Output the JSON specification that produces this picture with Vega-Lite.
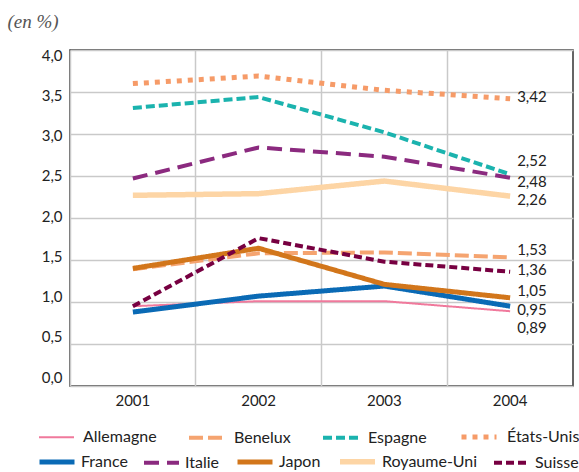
{
  "$schema": "https://vega.github.io/schema/vega-lite/v6.json",
  "width": 503,
  "height": 336,
  "autosize": {"type": "none"},
  "padding": {"left": 70, "top": 50, "right": 6, "bottom": 86},
  "background": "white",
  "config": {
    "view": {"stroke": "#333333", "strokeWidth": 1.5},
    "locale": {"number": {"decimal": ",", "thousands": " ", "grouping": [3], "currency": ["", " €"]}}
  },
  "data": {
    "values": [
      {"country": "Allemagne", "year": "2001", "value": 0.95},
      {"country": "Allemagne", "year": "2002", "value": 1.01},
      {"country": "Allemagne", "year": "2003", "value": 1.01},
      {"country": "Allemagne", "year": "2004", "value": 0.89},
      {"country": "Benelux", "year": "2001", "value": 1.39},
      {"country": "Benelux", "year": "2002", "value": 1.58},
      {"country": "Benelux", "year": "2003", "value": 1.59},
      {"country": "Benelux", "year": "2004", "value": 1.53},
      {"country": "Espagne", "year": "2001", "value": 3.31},
      {"country": "Espagne", "year": "2002", "value": 3.44},
      {"country": "Espagne", "year": "2003", "value": 3.02},
      {"country": "Espagne", "year": "2004", "value": 2.52},
      {"country": "États-Unis", "year": "2001", "value": 3.6},
      {"country": "États-Unis", "year": "2002", "value": 3.69},
      {"country": "États-Unis", "year": "2003", "value": 3.52},
      {"country": "États-Unis", "year": "2004", "value": 3.42},
      {"country": "France", "year": "2001", "value": 0.88},
      {"country": "France", "year": "2002", "value": 1.07},
      {"country": "France", "year": "2003", "value": 1.19},
      {"country": "France", "year": "2004", "value": 0.95},
      {"country": "Italie", "year": "2001", "value": 2.47},
      {"country": "Italie", "year": "2002", "value": 2.84},
      {"country": "Italie", "year": "2003", "value": 2.73},
      {"country": "Italie", "year": "2004", "value": 2.48},
      {"country": "Japon", "year": "2001", "value": 1.4},
      {"country": "Japon", "year": "2002", "value": 1.64},
      {"country": "Japon", "year": "2003", "value": 1.21},
      {"country": "Japon", "year": "2004", "value": 1.05},
      {"country": "Royaume-Uni", "year": "2001", "value": 2.27},
      {"country": "Royaume-Uni", "year": "2002", "value": 2.29},
      {"country": "Royaume-Uni", "year": "2003", "value": 2.44},
      {"country": "Royaume-Uni", "year": "2004", "value": 2.26},
      {"country": "Suisse", "year": "2001", "value": 0.95},
      {"country": "Suisse", "year": "2002", "value": 1.76},
      {"country": "Suisse", "year": "2003", "value": 1.48},
      {"country": "Suisse", "year": "2004", "value": 1.36}
    ]
  },
  "encoding": {
    "x": {
      "field": "year",
      "type": "ordinal",
      "scale": {"type": "band", "paddingInner": 0, "paddingOuter": 0},
      "axis": {
        "title": null,
        "bandPosition": 0,
        "grid": true,
        "gridColor": "#c9c9c9",
        "gridWidth": 1.5,
        "ticks": false,
        "domain": false,
        "labelAngle": 0,
        "labelPadding": 7,
        "labelFont": "Lato",
        "labelFontSize": 15,
        "labelColor": "#222222"
      }
    },
    "y": {
      "field": "value",
      "type": "quantitative",
      "scale": {"domain": [0, 4], "nice": false},
      "axis": {
        "title": "(en %)",
        "titleAngle": 0,
        "titleX": -63,
        "titleY": -29,
        "titleAlign": "left",
        "titleBaseline": "middle",
        "titleFont": "Liberation Serif",
        "titleFontStyle": "italic",
        "titleFontWeight": "normal",
        "titleFontSize": 19,
        "titleColor": "#555555",
        "values": [0, 0.5, 1, 1.5, 2, 2.5, 3, 3.5, 4],
        "format": ".1f",
        "ticks": false,
        "domain": false,
        "grid": true,
        "gridColor": "#c9c9c9",
        "gridWidth": 1.5,
        "labelPadding": 8,
        "labelFont": "Lato",
        "labelFontSize": 15,
        "labelColor": "#222222",
        "labelBaseline": "middle",
        "labelOffset": {"expr": "3.5*datum.value-9"}
      }
    }
  },
  "layer": [
    {
      "transform": [{"filter": {"field": "country", "oneOf": ["Allemagne", "Benelux", "Espagne", "États-Unis"]}}],
      "mark": {"type": "line"},
      "encoding": {
        "color": {
          "field": "country",
          "type": "nominal",
          "scale": {"domain": ["Allemagne", "Benelux", "Espagne", "États-Unis"], "range": ["#f0799c", "#f5a470", "#1bb3ae", "#f69b68"]},
          "legend": {
            "title": null,
            "orient": "none",
            "legendX": -32,
            "legendY": 367,
            "direction": "horizontal",
            "symbolType": "stroke",
            "symbolSize": 1225,
            "labelFont": "Lato",
            "labelFontSize": 16,
            "labelColor": "#222222",
            "labelOffset": 8,
            "columnPadding": 24
          }
        },
        "strokeDash": {
          "field": "country",
          "type": "nominal",
          "scale": {"domain": ["Allemagne", "Benelux", "Espagne", "États-Unis"], "range": [[1, 0], [14, 5], [9, 4], [5, 6]]}
        },
        "strokeWidth": {
          "field": "country",
          "type": "nominal",
          "scale": {"type": "ordinal", "domain": ["Allemagne", "Benelux", "Espagne", "États-Unis"], "range": [2, 4, 4, 5]}
        }
      }
    },
    {
      "transform": [{"filter": {"field": "country", "oneOf": ["France", "Italie", "Japon", "Royaume-Uni", "Suisse"]}}],
      "mark": {"type": "line"},
      "encoding": {
        "color": {
          "field": "country",
          "type": "nominal",
          "scale": {"domain": ["France", "Italie", "Japon", "Royaume-Uni", "Suisse"], "range": ["#0a6ab5", "#8b2a7f", "#d2761b", "#fdd5a5", "#770041"]},
          "legend": {
            "title": null,
            "orient": "none",
            "legendX": -33,
            "legendY": 391,
            "direction": "horizontal",
            "symbolType": "stroke",
            "symbolSize": 1225,
            "labelFont": "Lato",
            "labelFontSize": 16,
            "labelColor": "#222222",
            "labelOffset": 4,
            "columnPadding": 8
          }
        },
        "strokeDash": {
          "field": "country",
          "type": "nominal",
          "scale": {"domain": ["France", "Italie", "Japon", "Royaume-Uni", "Suisse"], "range": [[1, 0], [15, 8], [1, 0], [1, 0], [8, 4]]}
        },
        "strokeWidth": {
          "field": "country",
          "type": "nominal",
          "scale": {"type": "ordinal", "domain": ["France", "Italie", "Japon", "Royaume-Uni", "Suisse"], "range": [5, 4, 5, 5.5, 4]}
        }
      }
    },
    {
      "transform": [{"filter": {"field": "year", "equal": "2004"}}, {"filter": {"field": "country", "oneOf": ["Espagne"]}}],
      "mark": {"type": "text", "align": "left", "baseline": "middle", "dx": 7, "dy": -13, "font": "Lato", "fontSize": 15, "color": "#222222"},
      "encoding": {"text": {"field": "value", "type": "quantitative", "format": ".2f"}}
    },
    {
      "transform": [{"filter": {"field": "year", "equal": "2004"}}, {"filter": {"field": "country", "oneOf": ["Benelux", "Japon"]}}],
      "mark": {"type": "text", "align": "left", "baseline": "middle", "dx": 7, "dy": -7, "font": "Lato", "fontSize": 15, "color": "#222222"},
      "encoding": {"text": {"field": "value", "type": "quantitative", "format": ".2f"}}
    },
    {
      "transform": [{"filter": {"field": "year", "equal": "2004"}}, {"filter": {"field": "country", "oneOf": ["États-Unis", "Suisse"]}}],
      "mark": {"type": "text", "align": "left", "baseline": "middle", "dx": 7, "dy": -2, "font": "Lato", "fontSize": 15, "color": "#222222"},
      "encoding": {"text": {"field": "value", "type": "quantitative", "format": ".2f"}}
    },
    {
      "transform": [{"filter": {"field": "year", "equal": "2004"}}, {"filter": {"field": "country", "oneOf": ["Italie", "Royaume-Uni", "France"]}}],
      "mark": {"type": "text", "align": "left", "baseline": "middle", "dx": 7, "dy": 4, "font": "Lato", "fontSize": 15, "color": "#222222"},
      "encoding": {"text": {"field": "value", "type": "quantitative", "format": ".2f"}}
    },
    {
      "transform": [{"filter": {"field": "year", "equal": "2004"}}, {"filter": {"field": "country", "oneOf": ["Allemagne"]}}],
      "mark": {"type": "text", "align": "left", "baseline": "middle", "dx": 7, "dy": 17, "font": "Lato", "fontSize": 15, "color": "#222222"},
      "encoding": {"text": {"field": "value", "type": "quantitative", "format": ".2f"}}
    }
  ],
  "resolve": {"scale": {"color": "independent", "strokeDash": "independent", "strokeWidth": "independent"}}
}
